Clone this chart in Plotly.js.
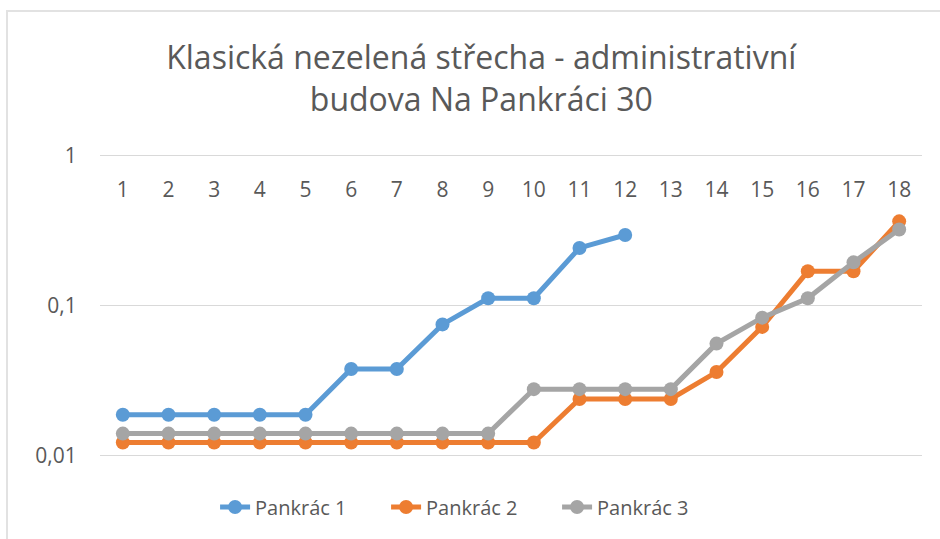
<!DOCTYPE html>
<html><head><meta charset="utf-8">
<script src="https://cdn.plot.ly/plotly-3.0.1.min.js"></script>
<style>
body{margin:0;background:#fff}
#chart{width:940px;height:539px}
#frame{position:absolute;left:6px;top:10px;width:934px;height:529px;border-top:2px solid #e2e2e2;border-left:2px solid #e2e2e2;box-sizing:border-box;pointer-events:none}
</style>
</head><body>
<div id="chart"></div><div id="frame"></div>
<script>
const categories = ["1","2","3","4","5","6","7","8","9","10","11","12","13","14","15","16","17","18"];
const seriesNames = ["Pankrác 1","Pankrác 2","Pankrác 3"];
const pankrac1 = [0.0187,0.0187,0.0187,0.0187,0.0187,0.0377,0.0377,0.0748,0.1117,0.1117,0.242,0.295];
const pankrac2 = [0.0122,0.0122,0.0122,0.0122,0.0122,0.0122,0.0122,0.0122,0.0122,0.0122,0.0238,0.0238,0.0238,0.036,0.072,0.169,0.169,0.364];
const pankrac3 = [0.014,0.014,0.014,0.014,0.014,0.014,0.014,0.014,0.014,0.0277,0.0277,0.0277,0.0277,0.0557,0.083,0.1117,0.194,0.321];
const yTickVals = [0.01,0.1,1];
const yTickText = ["0,01","0,1","1"];
const colors = ["#5B9BD5","#ED7D31","#A5A5A5"];
const titleText = "Klasická nezelená střecha - administrativní<br>budova Na Pankráci 30";

const font = "Open Sans, Noto Sans, sans-serif";
const allSeries = [pankrac1, pankrac2, pankrac3];
const traces = allSeries.map((vals, i) => ({
  type: "scatter",
  mode: "lines+markers",
  name: seriesNames[i],
  x: categories.slice(0, vals.length),
  y: vals,
  line: {color: colors[i], width: 5},
  marker: {color: colors[i], size: 14}
}));

const layout = {
  width: 940, height: 539,
  paper_bgcolor: "#fff", plot_bgcolor: "#fff",
  margin: {l: 100, r: 18, t: 154, b: 78},
  font: {family: font, color: "#595959", size: 20},
  title: {text: titleText, font: {family: font, size: 32, color: "#595959"},
          x: 0.512, xanchor: "center", yref: "container", y: 0.872, yanchor: "top"},
  xaxis: {type: "category", categoryorder: "array", categoryarray: categories,
          range: [-0.5, 17.5], anchor: "free", position: 0.932, side: "bottom",
          showgrid: false, zeroline: false, showline: false, ticks: "",
          tickfont: {family: font, size: 21, color: "#595959"}},
  yaxis: {type: "log", range: [-2.01, 0.01], tickvals: yTickVals, ticktext: yTickText,
          showgrid: true, gridcolor: "#d9d9d9", gridwidth: 1.5, zeroline: false, showline: false,
          ticks: "outside", ticklen: 18, tickcolor: "rgba(0,0,0,0)",
          tickfont: {family: font, size: 21, color: "#595959"}},
  showlegend: true,
  legend: {orientation: "h", x: 0.14, xanchor: "left", y: -0.165, yanchor: "middle",
           entrywidth: 126, entrywidthmode: "pixels",
           font: {family: font, size: 20, color: "#595959"}}
};
Plotly.newPlot("chart", traces, layout, {displayModeBar: false, staticPlot: true});
</script>
</body></html>
